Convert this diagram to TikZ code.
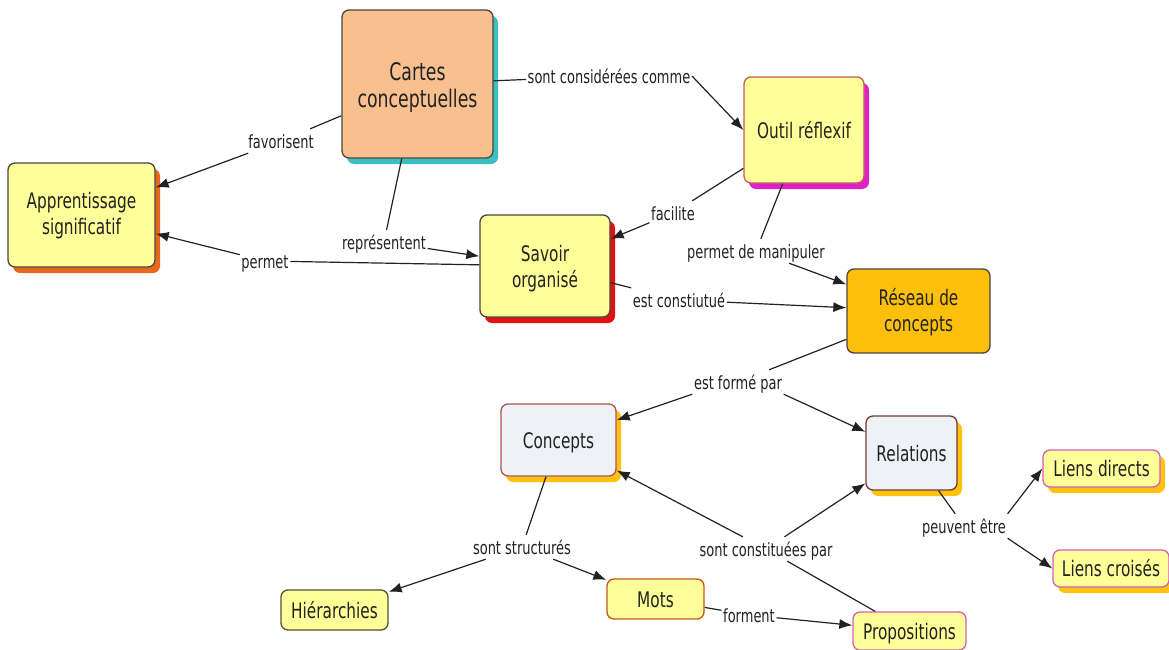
\documentclass[tikz,border=0pt]{standalone}
\usepackage{graphicx}
\usepackage{fontspec}
\setmainfont{DejaVu Sans}
\usetikzlibrary{arrows.meta,shadows}

% text is set a little taller than wide, and sits slightly low in its box
\newcommand{\tall}[1]{\raisebox{-3pt}[\height][\depth]{\scalebox{1}[1.4]{\begin{tabular}{@{}c@{}}#1\end{tabular}}}}

\definecolor{cpeach}{HTML}{F9C08F}
\definecolor{cyell}{HTML}{FFFF99}
\definecolor{cgold}{HTML}{FCC00A}
\definecolor{cpale}{HTML}{EEF1F5}
\definecolor{cteal}{HTML}{3BBFC2}
\definecolor{corange}{HTML}{E8661E}
\definecolor{cmagenta}{HTML}{E020C8}
\definecolor{cred}{HTML}{E31212}
\definecolor{camber}{HTML}{FFC20E}
\definecolor{cdark}{HTML}{4A4540}
\definecolor{cbrick}{HTML}{C06058}
\definecolor{cpink}{HTML}{D060B8}
\definecolor{ctext}{HTML}{222222}

\tikzset{
  box/.style={rectangle, rounded corners=7pt, line width=1.3pt, inner sep=0pt,
    align=center, text=ctext, font=\fontsize{15.3}{18.5}\selectfont},
  shade/.style={general shadow={shadow xshift=5pt, shadow yshift=-6pt, fill=#1}},
  lbl/.style={fill=white, inner sep=1.5pt, text=ctext, font=\fontsize{13}{15}\selectfont},
  link/.style={line width=1.2pt, draw=ctext},
  arr/.style={link, -{Latex[length=13pt,width=10pt]}},
}

\begin{document}
\begin{tikzpicture}[x=1pt, y=-1pt]
\useasboundingbox (0,0) rectangle (1169,650);

% concepts
\node[box, shade=cteal, fill=cpeach, draw=cdark, minimum width=151pt, minimum height=148pt,
      font=\fontsize{17.3}{19.3}\selectfont] (cartes) at (417.5,84)
      {\raisebox{-2pt}[\height][\depth]{\tall{Cartes\\conceptuelles}}};
\node[box, shade=cmagenta, fill=cyell, draw=cbrick, minimum width=120pt, minimum height=106pt]
      (outil) at (804,130) {\tall{Outil réflexif}};
\node[box, shade=corange, fill=cyell, draw=cdark, minimum width=147pt, minimum height=104pt]
      (appr) at (81.5,215) {\raisebox{1.5pt}[\height][\depth]{\tall{Apprentissage\\significatif}}};
\node[box, shade=cred, fill=cyell, draw=cdark, minimum width=130pt, minimum height=102pt]
      (savoir) at (545,266) {\tall{Savoir\\organisé}};
\node[box, fill=cgold, draw=cdark, minimum width=143pt, minimum height=84pt]
      (reseau) at (918.5,311) {\raisebox{1pt}[\height][\depth]{\tall{Réseau de\\concepts}}};
\node[box, shade=camber, fill=cpale, draw=cbrick!90!black, minimum width=115pt, minimum height=72pt]
      (concepts) at (558.5,440) {\tall{Concepts}};
\node[box, shade=camber, fill=cpale, draw=cbrick!60!black, minimum width=91pt, minimum height=74pt]
      (relations) at (911.5,453) {\tall{Relations}};
\node[box, shade=camber, fill=cyell, draw=cpink, minimum width=117pt, minimum height=37pt]
      (liensd) at (1101.5,468.5) {\tall{Liens directs}};
\node[box, shade=camber, fill=cyell, draw=cpink, minimum width=116pt, minimum height=37pt]
      (liensc) at (1111,568.5) {\tall{Liens croisés}};
\node[box, fill=cyell, draw=cdark!80!olive, minimum width=107pt, minimum height=40pt]
      (hier) at (334.5,610) {\tall{Hiérarchies}};
\node[box, fill=cyell, draw=corange!85!black, minimum width=97pt, minimum height=40pt]
      (mots) at (655.5,599) {\tall{Mots}};
\node[box, fill=cyell, draw=cpink, minimum width=113pt, minimum height=38pt]
      (props) at (909.5,631) {\tall{Propositions}};

% linking phrases
\node[lbl] (fav)  at (281,141) {\tall{favorisent}};
\node[lbl] (rep)  at (384,242) {\tall{représentent}};
\node[lbl] (perm) at (265,261) {\tall{permet}};
\node[lbl] (scc)  at (609,76)  {\tall{sont considérées comme}};
\node[lbl] (fac)  at (673,213) {\tall{facilite}};
\node[lbl] (pdm)  at (756,251) {\tall{permet de manipuler}};
\node[lbl] (ec)   at (679,300) {\tall{est constiutué}};
\node[lbl] (efp)  at (738,382) {\tall{est formé par}};
\node[lbl] (ss)   at (522,547) {\tall{sont structurés}};
\node[lbl] (scp)  at (766,549) {\tall{sont constituées par}};
\node[lbl] (pe)   at (964,526) {\tall{peuvent être}};
\node[lbl] (form) at (749,615) {\tall{forment}};

% propositions
\draw[link] (cartes) -- (fav);
\draw[arr]  (fav) -- (appr);
\draw[link] (cartes) -- (rep);
\draw[arr]  (rep) -- (savoir);
\draw[link] (savoir) -- (perm);
\draw[arr]  (perm) -- (appr);
\draw[link] (cartes) -- (scc);
\draw[arr]  (scc.east) -- (outil.west);
\draw[link] (outil) -- (fac);
\draw[arr]  (fac) -- (savoir);
\draw[link] (outil) -- (pdm);
\draw[arr]  (pdm) -- (reseau);
\draw[link] (savoir) -- (ec);
\draw[arr]  (ec) -- (reseau);
\draw[link] (reseau) -- (efp);
\draw[arr]  (efp.south west) -- (concepts);
\draw[arr]  (efp.south east) -- (relations);
\draw[link] (concepts) -- (ss);
\draw[arr]  (ss) -- (hier);
\draw[arr]  (ss) -- (mots);
\draw[link] (props) -- (scp);
\draw[arr]  (scp) -- (concepts);
\draw[arr]  (scp) -- (relations);
\draw[link] (relations) -- (pe);
\draw[arr]  (pe.north east) -- (liensd.west);
\draw[arr]  (pe.south east) -- (liensc.west);
\draw[link] (mots) -- (form);
\draw[arr]  (form) -- (props);
\end{tikzpicture}
\end{document}
